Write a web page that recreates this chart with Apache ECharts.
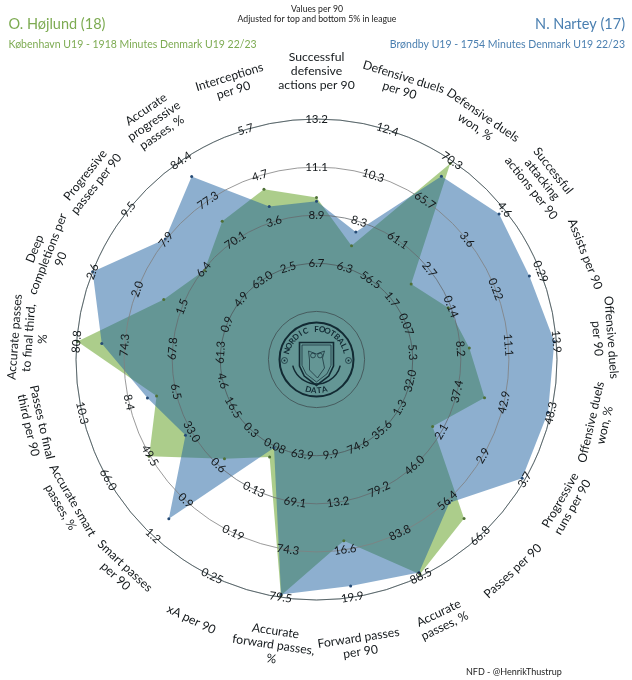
<!DOCTYPE html>
<html><head><meta charset="utf-8">
<style>html,body{margin:0;padding:0;background:#fff}#c{width:632px;height:680px}</style>
<script src="https://cdn.jsdelivr.net/npm/echarts@6/dist/echarts.min.js"></script>
</head><body><div id="c"></div>
<script>
const categories = ["Successful\ndefensive\nactions per 90","Defensive duels\nper 90","Defensive duels\nwon, %","Successful\nattacking\nactions per 90","Assists per 90","Offensive duels\nper 90","Offensive duels\nwon, %","Progressive\nruns per 90","Passes per 90","Accurate\npasses, %","Forward passes\nper 90","Accurate\nforward passes,\n%","xA per 90","Smart passes\nper 90","Accurate smart\npasses, %","Passes to final\nthird per 90","Accurate passes\nto final third,\n%","Deep\ncompletions per\n90","Progressive\npasses per 90","Accurate\nprogressive\npasses, %","Interceptions\nper 90"];
const ticksRing2 = ["6.7","6.3","56.5","1.7","0.07","5.3","32.0","1.3","35.6","74.6","9.9","63.9","0.08","0.3","16.5","4.6","61.3","0.9","4.9","63.0","2.5"];
const ticksRing3 = ["8.9","8.3","61.1","2.7","0.14","8.2","37.4","2.1","46.0","79.2","13.2","69.1","0.13","0.6","33.0","6.5","67.8","1.5","6.4","70.1","3.6"];
const ticksRing4 = ["11.1","10.3","65.7","3.6","0.22","11.1","42.9","2.9","56.4","83.8","16.6","74.3","0.19","0.9","49.5","8.4","74.3","2.0","7.9","77.3","4.7"];
const ticksRing5 = ["13.2","12.4","70.3","4.6","0.29","13.9","48.3","3.7","66.8","88.5","19.9","79.5","0.25","1.2","66.0","10.3","80.8","2.6","9.5","84.4","5.7"];
const hojlund = [9.66,7.26,70.0,2.2,0.139,8.7,40.6,1.93,61.7,88.3,15.94,79.3,0.094,0.544,49.8,7.28,80.7,1.7,6.4,73.55,4.32];
const nartey  = [9.5,7.87,68.5,4.46,0.272,13.78,47.96,3.65,57.05,88.1,19.1,79.2,0.082,1.054,35.4,7.65,77.4,2.6,8.0,81.6,3.92];
const hojlundLabel = ["O. Højlund (18)","København U19 - 1918 Minutes Denmark U19 22/23"];
const narteyLabel = ["N. Nartey (17)","Brøndby U19 - 1754 Minutes Denmark U19 22/23"];
const centerNote = "Values per 90\nAdjusted for top and bottom 5% in league";
const credit = "NFD - @HenrikThustrup";

const n = categories.length, CX = 316.5, CY = 359.5, R = 240.5, RINGS = 5, OUTER = 6.6;
const FONT = 'Lato, "Open Sans", sans-serif';
const rot = i => { const t = i*360/n; return t<=90 ? -t : t<=270 ? 180-t : 360-t; };
// radar lays indicators out counter-clockwise: keep index 0 on top and walk the rest backwards
const order = [0].concat(Array.from({length:n-1},(_,k)=>n-1-k));
const indicator = order.map(i=>{
  const a=+ticksRing2[i], b=+ticksRing5[i];
  return {name:categories[i], min:a-2*(b-a)/3, max:b};
});
const radarVals = arr => order.map(i=>arr[i]);
const tickData = [];
[ticksRing2,ticksRing3,ticksRing4,ticksRing5].forEach((arr,k)=>arr.forEach((t,i)=>{
  tickData.push({name:t,value:[k+2,i],label:{rotate:rot(i)}});
}));
const nameData = categories.map((c,i)=>({name:c,value:[6,i],label:{rotate:rot(i)}}));
const labelSeries = (data,size,lh,color)=>({
  type:'scatter',coordinateSystem:'polar',symbolSize:0,silent:true,z:6,clip:false,data,
  label:{show:true,position:'inside',formatter:'{b}',fontFamily:FONT,fontSize:size,lineHeight:lh,color,align:'center',verticalAlign:'middle',opacity:1}
});

// logo
const INK='#122a33';
const logo=[];
const ring=(r,w,a0,a1)=>({type:'arc',z:10,silent:true,shape:{cx:CX,cy:CY,r,startAngle:a0,endAngle:a1},style:{stroke:INK,lineWidth:w,fill:null}});
logo.push(ring(37,2,0,Math.PI*2));
logo.push(ring(24.5,1.5,0.25,Math.PI-0.25));
const arcText=(txt,r,from,to,size)=>{
  [...txt].forEach((ch,k)=>{
    const a=(from+(to-from)*k/(txt.length-1))*Math.PI/180;
    logo.push({type:'text',z:10,silent:true,x:CX+r*Math.sin(a),y:CY-r*Math.cos(a),rotation:-a,
      style:{text:ch,x:0,y:0,fill:INK,font:'bold '+size+'px '+FONT,align:'center',verticalAlign:'middle'}});
  });
};
arcText("NORDIC FOOTBALL",30.5,-74,74,8);
[...'DATA'].forEach((ch,k)=>{
  const a=(-15+k*10)*Math.PI/180;
  logo.push({type:'text',z:10,silent:true,x:CX+31*Math.sin(a),y:CY+31*Math.cos(a),rotation:a,
    style:{text:ch,x:0,y:0,fill:INK,font:'bold 8px '+FONT,align:'center',verticalAlign:'middle'}});
});
const shield=(top,hw,h)=>[[CX-hw,top],[CX+hw,top],[CX+hw,top+h*0.55],[CX+hw*0.72,top+h*0.78],[CX,top+h],[CX-hw*0.72,top+h*0.78],[CX-hw,top+h*0.55]];
const poly=(points,w)=>({type:'polygon',z:10,silent:true,shape:{points},style:{stroke:INK,lineWidth:w,fill:null}});
logo.push(poly(shield(342.5,17,43),1.6));
logo.push(poly(shield(345,14.5,37),0.7));
logo.push({type:'polygon',z:10,silent:true,shape:{points:[[CX-8,351],[CX,354],[CX+8,351],[CX+6,358],[CX+8,368],[CX+1,378],[CX-7,370],[CX-7,360]]},style:{stroke:INK,lineWidth:0.7,fill:null}});
[-3.5,3.5].forEach(dx=>logo.push({type:'circle',z:10,silent:true,shape:{cx:CX+dx,cy:355.5,r:2.4},style:{stroke:INK,lineWidth:0.7,fill:null}}));
[-32,32].forEach(dx=>{
  logo.push({type:'circle',z:10,silent:true,shape:{cx:CX+dx,cy:CY+1,r:3},style:{stroke:INK,lineWidth:0.7,fill:null}});
  logo.push({type:'circle',z:10,silent:true,shape:{cx:CX+dx,cy:CY+1,r:1},style:{fill:INK}});
});

const chart=echarts.init(document.getElementById('c'),null,{renderer:'canvas'});
const T=(text,pos,size,color,extra)=>Object.assign({text,padding:0},pos,{textStyle:Object.assign({fontFamily:FONT,fontSize:size,fontWeight:'normal',color},extra||{})});
chart.setOption({
  animation:false,backgroundColor:'#fff',
  title:[
    T(hojlundLabel[0],{left:8.5,top:17},14.5,'#7dab52'),
    T(hojlundLabel[1],{left:8.5,top:39},10.5,'#7dab52'),
    T(narteyLabel[0],{right:7,top:17},14.5,'#4a7fb0'),
    T(narteyLabel[1],{right:7,top:39},10.5,'#4a7fb0'),
    T(centerNote,{left:317,top:3.5,textAlign:'center'},8.7,'#222',{lineHeight:10.5,align:'center'}),
    T(credit,{left:466,top:668},9,'#222')
  ],
  radar:{center:[CX,CY],radius:R,startAngle:90,splitNumber:RINGS,shape:'circle',z:3,indicator,
    axisName:{show:false},axisLine:{show:false},axisTick:{show:false},axisLabel:{show:false},splitArea:{show:false},
    splitLine:{show:true,lineStyle:{width:0.8,color:['rgba(30,60,70,0.35)','#3f4c50','#4f585c','#666b6e','#808080']}}},
  polar:{center:[CX,CY],radius:R/RINGS*OUTER},
  angleAxis:{type:'value',min:0,max:n,startAngle:90,clockwise:true,show:false},
  radiusAxis:{type:'value',min:0,max:OUTER,show:false},
  series:[
    {type:'radar',z:2,symbol:'circle',symbolSize:3,lineStyle:{width:0},itemStyle:{color:'#4f7036'},areaStyle:{color:'#599b17',opacity:0.5},data:[{value:radarVals(hojlund),name:hojlundLabel[0]}]},
    {type:'radar',z:2,symbol:'circle',symbolSize:3,lineStyle:{width:0},itemStyle:{color:'#264b75'},areaStyle:{color:'#1b5f9f',opacity:0.5},data:[{value:radarVals(nartey),name:narteyLabel[0]}]},
    labelSeries(tickData,11.5,13,'#14191c'),
    labelSeries(nameData,12.2,14,'#14191c')
  ],
  graphic:{elements:logo}
});
</script></body></html>
